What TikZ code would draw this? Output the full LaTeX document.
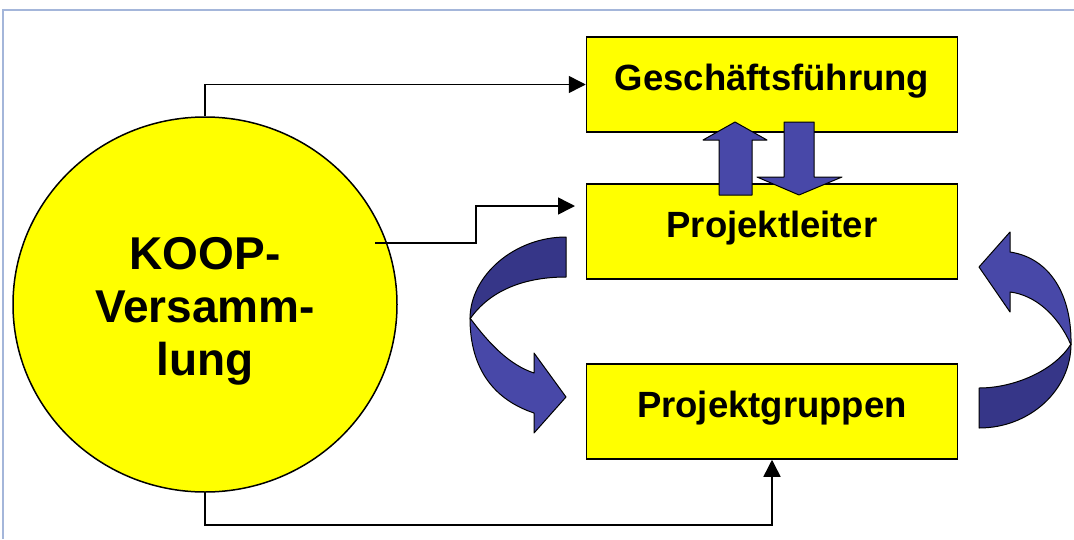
\documentclass[tikz,border=0pt]{standalone}
\usepackage{fontspec}
\setmainfont{Liberation Sans}
\usetikzlibrary{arrows.meta,shapes.geometric}
\definecolor{boxyellow}{HTML}{FFFF00}
\definecolor{arrlight}{HTML}{4848A8}
\definecolor{arrdark}{HTML}{363688}
\definecolor{framecol}{HTML}{A4B6DA}
\tikzset{
  boxnode/.style={draw=black, line width=1.5pt, fill=boxyellow, minimum width=371pt, minimum height=95pt, inner sep=0pt,
    font=\fontsize{36.5}{41}\selectfont\bfseries, text height=18.5pt, text depth=7.5pt},
  koopnode/.style={ellipse, draw=black, line width=1.5pt, fill=boxyellow, minimum width=384pt, minimum height=375pt, inner sep=0pt,
    font=\fontsize{46}{53}\selectfont\bfseries, align=center},
  conn/.style={draw=black, line width=1.5pt, -{Triangle[length=17pt,width=17pt]}},
  blockarrow/.style={draw=black, line width=1pt, line join=round},
  framelinestyle/.style={draw=framecol, line width=1.5pt}
}
\begin{document}
\begin{tikzpicture}[x=1pt,y=-1pt]
\useasboundingbox (0,0) rectangle (1074,539);
% frame
\draw[framelinestyle] (3,539) -- (3,10) -- (1074,10);
% nodes
\node[koopnode] (koop) at (205,304.5) {\rule{0pt}{46.7pt}KOOP-\\Versamm-\\lung};
\node[boxnode] (gf) at (772,84.5) {Geschäftsführung};
\node[boxnode] (pl) at (772,231.5) {Projektleiter};
\node[boxnode] (pg) at (772,411.5) {Projektgruppen};
% connectors
\draw[conn] (koop.north) |- (gf.west);
\coordinate (kooprt) at (375,243);
\coordinate (plin) at (575,206);
\draw[conn] (kooprt) -- (476,243) |- (plin);
\draw[conn] (koop.south) -- ++(0,32) -| (pg.south);
% up / down block arrows
\draw[blockarrow, fill=arrlight] (719,195) -- (719,140) -- (703,140) -- (735,122) -- (767,140) -- (752,140) -- (752,195) -- cycle;
\draw[blockarrow, fill=arrlight] (784,122) -- (814,122) -- (814,177) -- (842,177) -- (799,195) -- (757,177) -- (784,177) -- cycle;
% left curved arrow (Projektleiter -> Projektgruppen)
\draw[blockarrow, fill=arrdark] (566,237) .. controls (515,237) and (470,275) .. (470,319)
  .. controls (490,290) and (525,277) .. (566,277) -- cycle;
\draw[blockarrow, fill=arrlight] (534,373) -- (534,353) -- (566,397) -- (534,433) -- (534,413)
  .. controls (495,400) and (470,370) .. (470,318)
  .. controls (490,345) and (510,365) .. (534,373) -- cycle;
% right curved arrow (Projektgruppen -> Projektleiter)
\draw[blockarrow, fill=arrdark] (979,428) .. controls (1030,428) and (1071,390) .. (1071,344)
  .. controls (1055,370) and (1015,388) .. (979,388) -- cycle;
\draw[blockarrow, fill=arrlight] (1010,292) -- (1010,312) -- (979,267) -- (1010,232) -- (1010,252)
  .. controls (1050,258) and (1072,295) .. (1071,345)
  .. controls (1058,315) and (1035,295) .. (1010,292) -- cycle;
\end{tikzpicture}
\end{document}
